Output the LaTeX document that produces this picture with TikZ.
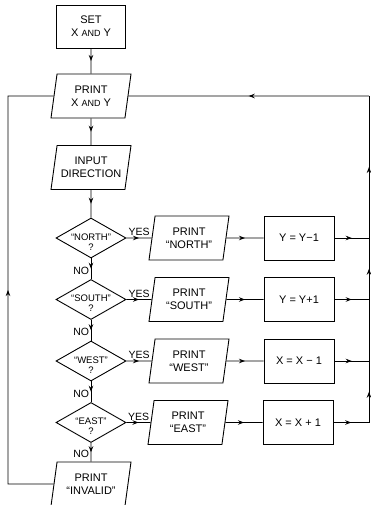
\documentclass[tikz,border=0pt]{standalone}
\usepackage{fontspec}
\setmainfont{Liberation Sans}
\usetikzlibrary{arrows.meta}
\usetikzlibrary{positioning, shapes.geometric, decorations.markings}

\newcommand{\sand}{{\small AND}}

\begin{document}
\begin{tikzpicture}[x=1pt,y=1pt,line width=0.9pt,node distance=61.5pt,on grid,
                font=\fontsize{11}{13}\selectfont,
                box/.style={rectangle,draw,minimum width=70pt,minimum height=44pt,align=center,inner sep=1pt},
                io/.style={trapezium,trapezium left angle=75,trapezium right angle=105,
                           trapezium stretches body,draw,minimum width=80pt,minimum height=44pt,
                           align=center,inner sep=1pt},
                decide/.style={diamond,draw,minimum width=70pt,minimum height=40pt,inner sep=0pt},
                ask/.style={align=center,inner sep=0pt,font=\fontsize{9.5}{10}\selectfont},
                tag/.style={font=\fontsize{10.5}{12}\selectfont,inner sep=1.5pt},
                flow/.style={postaction={decorate},
                             decoration={markings,mark=at position .5 with {\arrow{Stealth[length=6pt,width=4.5pt]}}}}]

        \useasboundingbox (0,0) rectangle (371,-505);

        \node[box,minimum width=69pt,minimum height=43pt] (set) at (91,-26.5) {SET\\X \sand{} Y};
        \node[io] (printxy) [below=69.5pt of set] {PRINT\\X \sand{} Y};
        \node[io] (input) [below=71.5pt of printxy] {INPUT\\DIRECTION};
        \node[decide] (north) [below=70.5pt of input] {};
        \node[decide] (south) [below=of north] {};
        \node[decide] (west) [below=of south] {};
        \node[decide] (east) [below=of west] {};
        \node[io] (invalid) [below=of east] {PRINT\\``INVALID''};

        \node[ask] (northq) at ([yshift=-4pt]north.center) {``NORTH''\\?};
        \node[ask] (southq) at ([yshift=-4pt]south.center) {``SOUTH''\\?};
        \node[ask] (westq) at ([yshift=-4pt]west.center) {``WEST''\\?};
        \node[ask] (eastq) at ([yshift=-4pt]east.center) {``EAST''\\?};

        \node[io] (printn) [right=98pt of north] {PRINT\\``NORTH''};
        \node[io] (prints) [right=98pt of south] {PRINT\\``SOUTH''};
        \node[io] (printw) [right=98pt of west] {PRINT\\``WEST''};
        \node[io] (printe) [right=97pt of east] {PRINT\\``EAST''};

        \node[box] (ym) [right=110pt of printn] {Y = Y−1};
        \node[box] (yp) [right=110pt of prints] {Y = Y+1};
        \node[box] (xm) [right=110pt of printw] {X = X − 1};
        \node[box] (xp) [right=110pt of printe] {X = X + 1};

        % return lines
        \coordinate (rline) at (369,0);
        \coordinate (lline) at (8,0);
        \coordinate (r1) at (ym -| rline);
        \coordinate (r2) at (yp -| rline);
        \coordinate (r3) at (xm -| rline);
        \coordinate (r4) at (xp -| rline);
        \coordinate (rtop) at (printxy -| rline);
        \coordinate (ltop) at (printxy -| lline);
        \coordinate (lbot) at (invalid -| lline);

          \path
            (set)     edge [flow]                               (printxy)
            (printxy) edge [flow]                               (input)
            (input)   edge [flow]                               (north)
            (north)   edge [flow]   node [tag,above]        {YES} (printn)
                      edge [flow]   node [tag,left,pos=.6]  {NO}  (south)
            (south)   edge [flow]   node [tag,above]        {YES} (prints)
                      edge [flow]   node [tag,left,pos=.6]  {NO}  (west)
            (west)    edge [flow]   node [tag,above]        {YES} (printw)
                      edge [flow]   node [tag,left,pos=.6]  {NO}  (east)
            (east)    edge [flow]   node [tag,above]        {YES} (printe)
                      edge [flow]   node [tag,left,pos=.6]  {NO}  (invalid)
            (printn)  edge [flow]                               (ym)
            (prints)  edge [flow]                               (yp)
            (printw)  edge [flow]                               (xm)
            (printe)  edge [flow]                               (xp)
            (ym)      edge [flow]                               (r1)
            (yp)      edge [flow]                               (r2)
            (xm)      edge [flow]                               (r3)
            (xp)      edge [flow]                               (r4)
            (r4)      edge [flow]                               (r3)
            (r3)      edge                                      (r2)
            (r2)      edge [flow]                               (r1)
            (r1)      edge [flow]                               (rtop)
            (rtop)    edge [flow]                               (printxy);

        \draw[flow] (invalid) -- (lbot) -- (ltop) -- (printxy);
\end{tikzpicture}
\end{document}
